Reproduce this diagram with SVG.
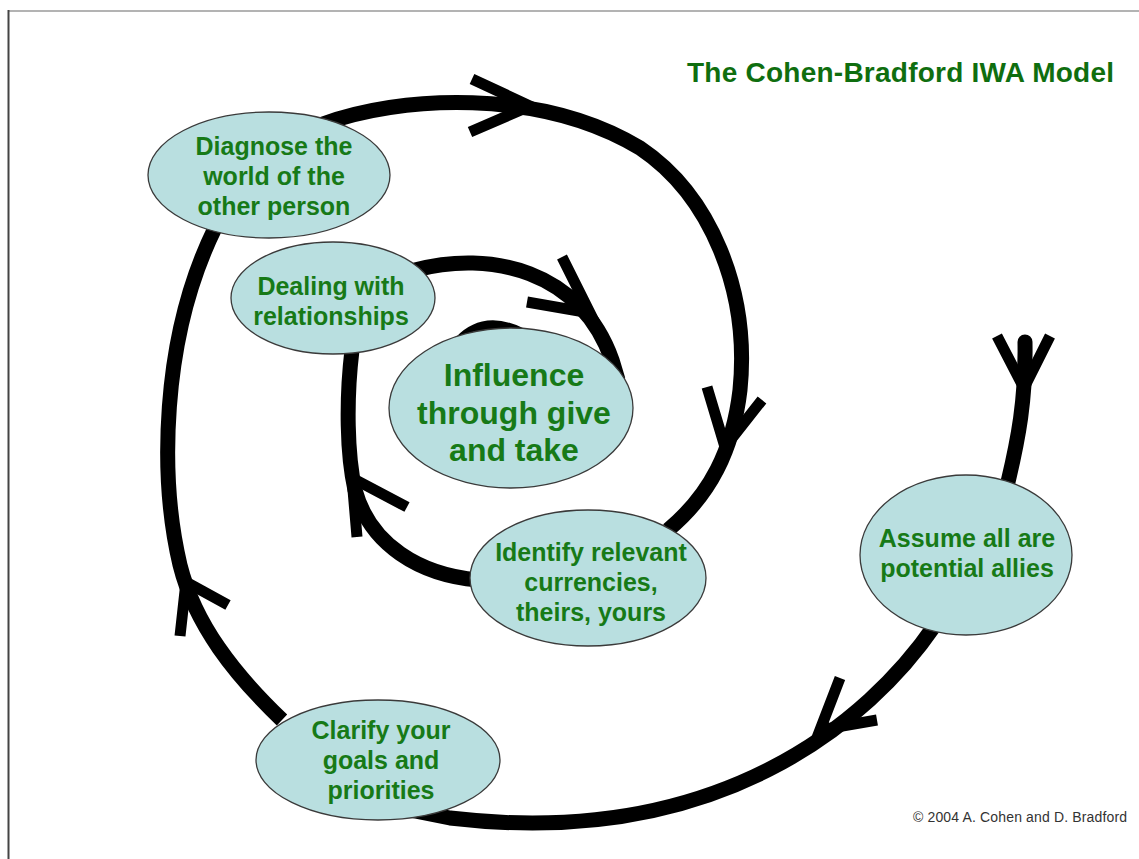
<svg xmlns="http://www.w3.org/2000/svg" width="1139" height="859" viewBox="0 0 1139 859">
  <style>
    .bg { fill: #ffffff; }
    .spiral { fill: none; stroke: #000; stroke-width: 15; stroke-linecap: butt; stroke-linejoin: round; }
    .arm { fill: none; stroke: #000; stroke-width: 11; stroke-linecap: butt; stroke-linejoin: miter; }
    .node { fill: #B9DFE0; stroke: #3a3a3a; stroke-width: 1.3; }
    .lbl { font-family: "Liberation Sans", Arial, sans-serif; font-weight: bold; font-size: 25px; fill: #177A17; text-anchor: middle; }
    .big { font-size: 32px; }
    .title { font-family: "Liberation Sans", Arial, sans-serif; font-weight: bold; font-size: 28px; fill: #0F6E0F; }
    .copy { font-family: "Liberation Sans", Arial, sans-serif; font-size: 14px; fill: #333; }
  </style>
  <rect class="bg" x="0" y="0" width="1139" height="859"/>
  <line x1="8" y1="11" x2="1139" y2="11" stroke="#9a9a9a" stroke-width="1.5"/>
  <line x1="8.5" y1="10" x2="8.5" y2="859" stroke="#444" stroke-width="2"/>

  <g id="connectors">
    <!-- start segment -->
    <path class="spiral" d="M 1025 342 C 1026 400, 1018 440, 1008 482 L 1000 510" style="stroke-linecap:round"/>
    <!-- Assume -> Clarify -->
    <path class="spiral" d="M 935 625 C 870 720, 720 850, 450 818 L 410 810"/>
    <!-- Clarify -> Diagnose -->
    <path class="spiral" d="M 282 720 C 235 675, 195 625, 180 565 C 160 480, 160 340, 215 228"/>
    <!-- Diagnose -> Identify -->
    <path class="spiral" d="M 320 125 C 400 95, 540 88, 640 148 C 710 195, 750 290, 740 390 C 733 450, 710 495, 668 530"/>
    <!-- Identify -> Dealing -->
    <path class="spiral" d="M 478 580 C 420 575, 370 545, 355 490 C 347 455, 346 400, 352 350"/>
    <!-- Dealing -> Influence -->
    <path class="spiral" d="M 415 270 C 490 250, 580 270, 612 360 L 618 380"/>
    <!-- innermost arc -->
    <path class="spiral" d="M 455 350 Q 480 315 520 335"/>

    <!-- arrowheads -->
    <path class="arm" d="M 997 336 L 1024 388 L 1050 336"/>
    <path class="arm" d="M 472 79 L 530 106 L 470 132"/>
    <path class="arm" d="M 562 257 L 590 313 L 527 302"/>
    <path class="arm" d="M 707 387 L 725 447 L 762 400"/>
    <path class="arm" d="M 407 507 L 352 478 L 357 537"/>
    <path class="arm" d="M 228 605 L 186 582 L 180 636"/>
    <path class="arm" d="M 840 678 L 820 730 L 877 720"/>
  </g>

  <g id="diagnose">
    <ellipse class="node" cx="269" cy="175" rx="121" ry="63"/>
    <text class="lbl" x="274" y="155">Diagnose the</text>
    <text class="lbl" x="274" y="185">world of the</text>
    <text class="lbl" x="274" y="215">other person</text>
  </g>
  <g id="dealing">
    <ellipse class="node" cx="333" cy="298" rx="102" ry="56"/>
    <text class="lbl" x="331" y="295">Dealing with</text>
    <text class="lbl" x="331" y="325">relationships</text>
  </g>
  <g id="influence">
    <ellipse class="node" cx="511" cy="408" rx="122" ry="80"/>
    <text class="lbl big" x="514" y="386">Influence</text>
    <text class="lbl big" x="514" y="424">through give</text>
    <text class="lbl big" x="514" y="461">and take</text>
  </g>
  <g id="identify">
    <ellipse class="node" cx="588" cy="578" rx="118" ry="68"/>
    <text class="lbl" x="591" y="561">Identify relevant</text>
    <text class="lbl" x="591" y="591">currencies,</text>
    <text class="lbl" x="591" y="621">theirs, yours</text>
  </g>
  <g id="assume">
    <ellipse class="node" cx="966" cy="555" rx="106" ry="80"/>
    <text class="lbl" x="967" y="547">Assume all are</text>
    <text class="lbl" x="967" y="577">potential allies</text>
  </g>
  <g id="clarify">
    <ellipse class="node" cx="378" cy="760" rx="122" ry="60"/>
    <text class="lbl" x="381" y="739">Clarify your</text>
    <text class="lbl" x="381" y="769">goals and</text>
    <text class="lbl" x="381" y="799">priorities</text>
  </g>

  <text class="title" x="687" y="82" textLength="427">The Cohen-Bradford IWA Model</text>
  <text class="copy" x="913" y="822" textLength="214">© 2004 A. Cohen and D. Bradford</text>
</svg>
